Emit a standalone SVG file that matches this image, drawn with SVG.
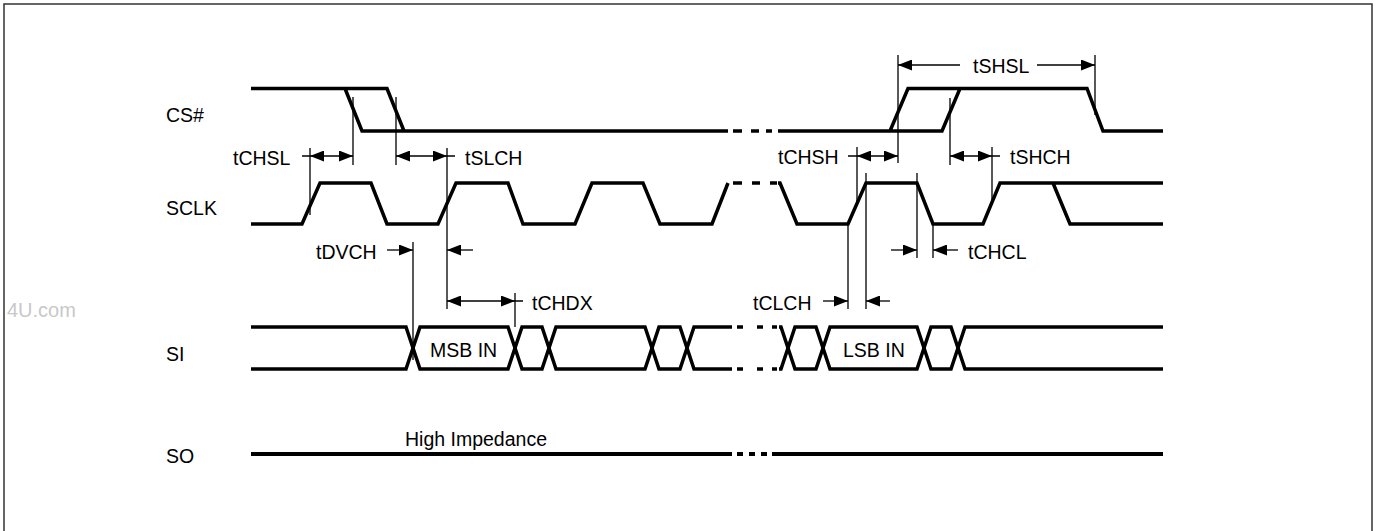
<svg xmlns="http://www.w3.org/2000/svg" width="1379" height="531" viewBox="0 0 1379 531">
<style>
.sig{fill:none;stroke:#000;stroke-width:3.5;stroke-linejoin:miter;stroke-linecap:butt}
.thin{fill:none;stroke:#000;stroke-width:1.3}
.lbl{font-family:"Liberation Sans",Arial,sans-serif;font-size:19.5px;fill:#000}
.arr{marker-end:url(#ah)}
.dbl{marker-start:url(#ah);marker-end:url(#ah)}
</style>
<defs>
<marker id="ah" markerUnits="userSpaceOnUse" markerWidth="15" markerHeight="11" refX="14" refY="5.5" orient="auto-start-reverse">
<path d="M0,0 L14,5.5 L0,11 z" fill="#000"/>
</marker>
</defs>
<rect x="0" y="0" width="1379" height="531" fill="#fff"/>
<rect id="frame" x="4" y="4" width="1368" height="560" fill="none" stroke="#333" stroke-width="1.5"/>
<text id="watermark" x="7" y="317" class="lbl" style="fill:#c8c8c8;font-size:20px">4U.com</text>

<g id="cs">
<text class="lbl" x="166" y="122">CS#</text>
<path class="sig" d="M251,88.5 H387 L404,131 M345,88.5 L362,131 H728"/>
<path class="sig" d="M733,131 H742 M751,131 H759 M766,131 H772"/>
<path class="sig" d="M778,131 H942 L960,88.5 M890,131 L908,88.5 H1087 L1103,131 H1163"/>
</g>

<g id="sclk">
<text class="lbl" x="166" y="215">SCLK</text>
<path class="sig" d="M251,224 H302 L320,183 H371 L387,224 H438 L456,183 H508 L523,224 H575 L592,183 H643 L660,224 H712 L728,183"/>
<path class="sig" d="M733,183 H742 M752,183 H760 M770,183 H777"/>
<path class="sig" d="M778,183 H780 L797,224 H848 L866,183 H917 L933,224 H983 L1000,183 H1163 M1053,183 L1070,224 H1163"/>
</g>

<g id="si">
<text class="lbl" x="166" y="361">SI</text>
<path class="sig" d="M251,327 H406 L420,369 H508 L522,327 H542 L556,369 H645 L659,327 H680 L694,369 H732"/>
<path class="sig" d="M251,369 H406 L420,327 H508 L522,369 H542 L556,327 H645 L659,369 H680 L694,327 H732"/>
<path class="sig" d="M737,327 H743 M757,327 H763 M772,327 H777 M737,369 H743 M757,369 H763 M772,369 H777"/>
<path class="sig" d="M779,327 H781 L795,369 H816 L830,327 H917 L931,369 H951 L965,327 H1163"/>
<path class="sig" d="M779,369 H781 L795,327 H816 L830,369 H917 L931,327 H951 L965,369 H1163"/>
<text class="lbl" x="430" y="357">MSB IN</text>
<text class="lbl" x="843" y="357">LSB IN</text>
</g>

<g id="so">
<text class="lbl" x="166" y="463">SO</text>
<path class="sig" style="stroke-width:4" d="M251,454 H732 M737,454 H743 M749,454 H755 M761,454 H767 M772,454 H1163"/>
<text class="lbl" x="405" y="446">High Impedance</text>
</g>

<g id="connectors">
<path class="thin" d="M310,148 V215 M353,97 V165 M396,97 V165 M447,148 V309 M413,242 V360 M515,293 V327 M898,55 V163 M1095,55 V115 M950,98 V165 M992,147 V203 M857,147 V203 M848,222 V309 M866,173 V309 M917,173 V258 M933,224 V258"/>
<path class="thin" d="M302,156 H310 M447,156 H455 M848,156 H857 M992,156 H1000 M515,301 H523"/>
<line class="thin dbl" x1="310" y1="156" x2="353" y2="156"/>
<line class="thin dbl" x1="396" y1="156" x2="447" y2="156"/>
<line class="thin dbl" x1="857" y1="156" x2="898" y2="156"/>
<line class="thin dbl" x1="950" y1="156" x2="992" y2="156"/>
<line class="thin dbl" x1="447" y1="301" x2="515" y2="301"/>
<line class="thin arr" x1="960" y1="65" x2="898" y2="65"/>
<line class="thin arr" x1="1037" y1="65" x2="1095" y2="65"/>
<line class="thin arr" x1="387" y1="250" x2="413" y2="250"/>
<line class="thin arr" x1="473" y1="250" x2="447" y2="250"/>
<line class="thin arr" x1="823" y1="301" x2="848" y2="301"/>
<line class="thin arr" x1="890" y1="301" x2="866" y2="301"/>
<line class="thin arr" x1="891" y1="250" x2="917" y2="250"/>
<line class="thin arr" x1="958" y1="250" x2="933" y2="250"/>
</g>

<g id="timing-labels">
<text class="lbl" x="233" y="165">tCHSL</text>
<text class="lbl" x="465" y="165">tSLCH</text>
<text class="lbl" x="778" y="164">tCHSH</text>
<text class="lbl" x="1010" y="164">tSHCH</text>
<text class="lbl" x="973" y="73">tSHSL</text>
<text class="lbl" x="316" y="259">tDVCH</text>
<text class="lbl" x="968" y="259">tCHCL</text>
<text class="lbl" x="532" y="310">tCHDX</text>
<text class="lbl" x="753" y="310">tCLCH</text>
</g>
</svg>
